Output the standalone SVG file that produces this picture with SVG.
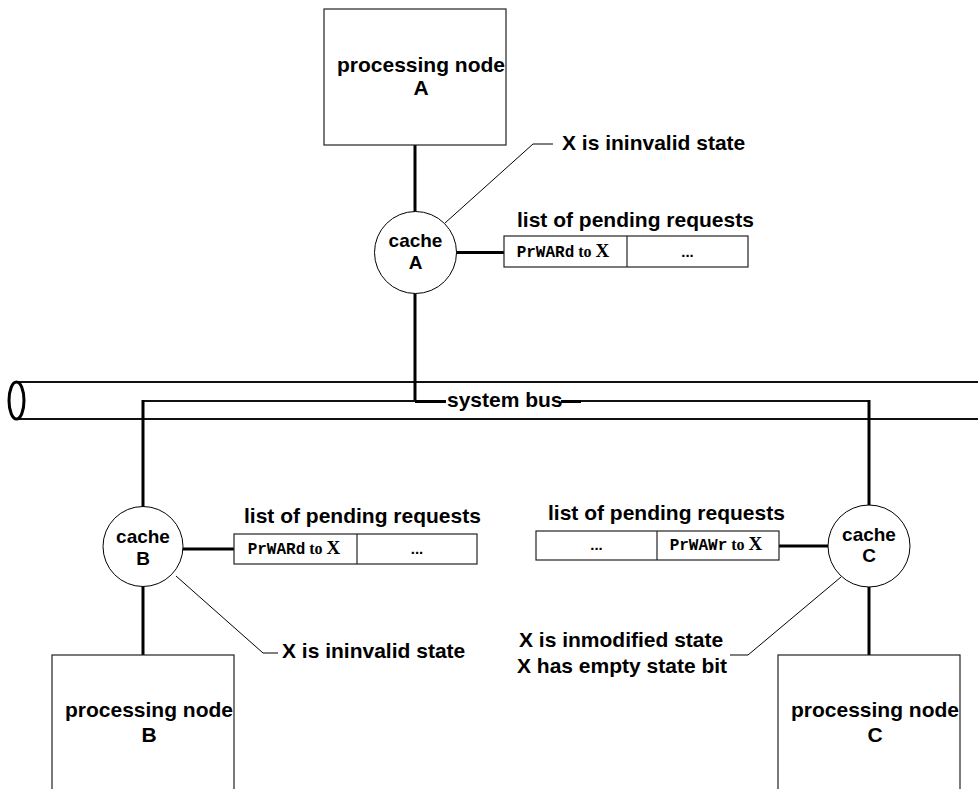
<svg xmlns="http://www.w3.org/2000/svg" width="978" height="789" viewBox="0 0 978 789">
<style>
  .box{fill:#fff;stroke:#222;stroke-width:1.2}
  .circ{fill:#fff;stroke:#000;stroke-width:1}
  .t{font-family:"Liberation Sans",Arial,sans-serif;font-weight:bold;font-size:21px;fill:#000}
  .tc{font-family:"Liberation Sans",Arial,sans-serif;font-weight:bold;font-size:19px;fill:#000;text-anchor:middle}
  .mono{font-family:"Liberation Mono","Courier New",monospace;font-weight:bold;font-size:16px}
  .ser{font-family:"Liberation Serif","Times New Roman",serif;font-weight:bold}
  .dots{font-family:"Liberation Sans",Arial,sans-serif;font-weight:bold;font-size:15px;text-anchor:middle}
  .thick{stroke:#000;stroke-width:3;fill:none}
  .med{stroke:#111;stroke-width:2;fill:none}
  .thin{stroke:#000;stroke-width:1;fill:none}
</style>
<rect width="978" height="789" fill="#fff"/>

<g id="bus">
  <line x1="16.5" y1="382" x2="978" y2="382" class="med"/>
  <line x1="16.5" y1="419" x2="978" y2="419" class="med"/>
  <ellipse cx="16.5" cy="400.5" rx="7.5" ry="18.5" fill="#fff" stroke="#000" stroke-width="3"/>
  <text x="447" y="407" class="t">system bus</text>
</g>

<g id="connectors">
  <line x1="415" y1="145" x2="415" y2="212" class="thick"/>
  <line x1="415" y1="293" x2="415" y2="402" class="thick"/>
  <line x1="415" y1="401.5" x2="446" y2="401.5" class="thick"/>
  <line x1="143" y1="401" x2="415" y2="401" class="med"/>
  <line x1="143" y1="400" x2="143" y2="507" class="thick"/>
  <line x1="561" y1="401.5" x2="581" y2="401.5" class="thick"/>
  <line x1="581" y1="401" x2="869" y2="401" class="med"/>
  <line x1="869" y1="400" x2="869" y2="506" class="thick"/>
  <line x1="143" y1="586" x2="143" y2="655" class="thick"/>
  <line x1="869" y1="587" x2="869" y2="655" class="thick"/>
  <line x1="456" y1="252.5" x2="504" y2="252.5" class="thick"/>
  <line x1="183" y1="549" x2="234" y2="549" class="thick"/>
  <line x1="779" y1="546" x2="828" y2="546" class="thick"/>
  <polyline points="445,223 533,144 553,144" class="thin"/>
  <polyline points="176,576 263,653 278,653" class="thin"/>
  <polyline points="841,577 748,655 730,655" class="thin"/>
</g>

<g id="nodeA">
  <rect x="324" y="9" width="182" height="136" class="box"/>
  <text x="421" y="72" class="t" text-anchor="middle">processing node</text>
  <text x="421" y="95" class="t" text-anchor="middle">A</text>
</g>
<g id="nodeB">
  <rect x="52" y="655" width="182" height="140" class="box"/>
  <text x="149" y="717" class="t" text-anchor="middle">processing node</text>
  <text x="149" y="742" class="t" text-anchor="middle">B</text>
</g>
<g id="nodeC">
  <rect x="778" y="655" width="182" height="140" class="box"/>
  <text x="875" y="717" class="t" text-anchor="middle">processing node</text>
  <text x="875" y="742" class="t" text-anchor="middle">C</text>
</g>

<g id="cacheA">
  <circle cx="415.5" cy="252.5" r="41" class="circ"/>
  <text x="415.5" y="247" class="tc">cache</text>
  <text x="415.5" y="269" class="tc">A</text>
</g>
<g id="cacheB">
  <circle cx="143" cy="546.5" r="40" class="circ"/>
  <text x="143" y="543" class="tc">cache</text>
  <text x="143" y="565" class="tc">B</text>
</g>
<g id="cacheC">
  <circle cx="869" cy="546" r="41" class="circ"/>
  <text x="869" y="541" class="tc">cache</text>
  <text x="869" y="562" class="tc">C</text>
</g>

<g id="listA">
  <text x="517" y="227" class="t">list of pending requests</text>
  <rect x="504" y="236" width="244" height="31" class="box"/>
  <line x1="627" y1="236" x2="627" y2="267" stroke="#222" stroke-width="1.2"/>
  <text x="563" y="257" text-anchor="middle"><tspan class="mono">PrWARd</tspan><tspan class="ser" font-size="16"> to </tspan><tspan class="ser" font-size="19">X</tspan></text>
  <text x="687.5" y="257" class="dots">...</text>
</g>
<g id="listB">
  <text x="244" y="523" class="t">list of pending requests</text>
  <rect x="234" y="534" width="243" height="30" class="box"/>
  <line x1="357" y1="534" x2="357" y2="564" stroke="#222" stroke-width="1.2"/>
  <text x="294" y="554" text-anchor="middle"><tspan class="mono">PrWARd</tspan><tspan class="ser" font-size="16"> to </tspan><tspan class="ser" font-size="19">X</tspan></text>
  <text x="417" y="554" class="dots">...</text>
</g>
<g id="listC">
  <text x="548" y="520" class="t">list of pending requests</text>
  <rect x="536" y="531" width="243" height="29" class="box"/>
  <line x1="657" y1="531" x2="657" y2="560" stroke="#222" stroke-width="1.2"/>
  <text x="716" y="550" text-anchor="middle"><tspan class="mono">PrWAWr</tspan><tspan class="ser" font-size="16"> to </tspan><tspan class="ser" font-size="19">X</tspan></text>
  <text x="596.5" y="550" class="dots">...</text>
</g>

<g id="labels">
  <text x="562" y="149.5" class="t">X is ininvalid state</text>
  <text x="282" y="658" class="t">X is ininvalid state</text>
  <text x="519" y="647" class="t">X is inmodified state</text>
  <text x="517" y="673" class="t">X has empty state bit</text>
</g>
</svg>
